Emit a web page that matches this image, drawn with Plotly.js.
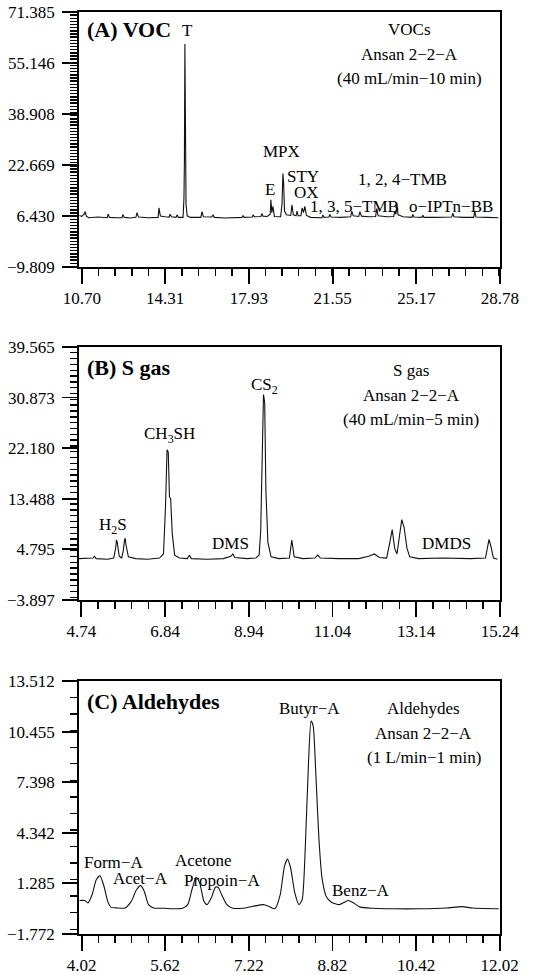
<!DOCTYPE html>
<html>
<head>
<meta charset="utf-8">
<script src="https://cdn.plot.ly/plotly-3.0.1.min.js"></script>
<style>html,body{margin:0;padding:0;background:#fff;}#chart{width:546px;height:975px;}</style>
</head>
<body>
<div id="chart"></div>
<script>
// ---------- Panel A : VOC chromatogram ----------
const vocTime = [10.60,10.70,10.80,10.84,10.90,11.00,11.40,11.80,11.84,11.90,12.20,12.44,12.48,12.54,12.80,13.04,13.09,13.15,13.60,14.00,14.04,14.10,14.30,14.48,14.52,14.58,14.78,14.82,14.88,15.08,15.12,15.14,15.16,15.18,15.21,15.26,15.40,15.85,15.90,15.96,16.20,16.33,16.37,16.44,16.90,17.30,17.63,17.67,17.72,18.07,18.11,18.16,18.45,18.49,18.54,18.72,18.85,18.88,18.92,18.97,19.03,19.30,19.36,19.40,19.43,19.47,19.55,19.74,19.79,19.85,19.97,20.01,20.06,20.18,20.23,20.29,20.35,20.42,20.60,21.09,21.13,21.18,21.39,21.43,21.48,21.90,22.33,22.38,22.44,22.68,22.73,22.80,23.10,23.41,23.46,23.52,23.90,24.19,24.24,24.29,24.33,24.38,24.60,24.98,25.02,25.07,25.41,25.45,25.50,26.00,26.50,26.70,26.75,26.80,27.20,27.65,27.70,27.75,28.20,28.72];
const vocSignal = [6.6,6.3,7.0,7.8,6.4,5.9,6.1,5.9,7.0,6.0,5.9,5.9,6.9,6.0,5.8,6.0,7.5,6.1,5.9,6.0,9.0,6.4,6.2,6.1,7.0,6.2,6.0,6.8,6.0,6.0,12.0,24.0,61.2,24.0,10.0,6.5,6.0,6.0,7.8,6.2,6.0,6.1,6.8,6.0,5.8,6.0,6.0,6.6,6.0,6.1,6.8,6.2,6.3,7.2,6.4,6.3,7.0,11.6,7.5,9.5,6.3,6.2,10.0,20.0,17.0,8.0,6.8,6.6,10.0,6.8,6.5,8.0,6.5,6.5,9.0,7.5,9.5,6.6,6.0,5.9,6.8,6.0,6.1,6.9,6.1,6.0,6.2,8.0,6.5,6.3,7.8,6.4,6.2,6.3,8.8,6.5,6.2,6.3,8.0,7.0,10.5,6.8,6.2,6.0,6.9,6.1,6.0,6.7,6.0,6.0,5.9,6.1,7.3,6.2,6.0,6.0,8.0,6.1,6.0,5.9];
const vocXTicks = [10.70,14.31,17.93,21.55,25.17,28.78];
const vocYTicks = [71.385,55.146,38.908,22.669,6.430,-9.809];

// ---------- Panel B : S gas chromatogram ----------
const sTime = [4.68,4.90,5.03,5.07,5.11,5.40,5.55,5.60,5.62,5.64,5.69,5.75,5.79,5.82,5.84,5.86,5.92,6.10,6.40,6.70,6.80,6.85,6.89,6.92,6.95,6.98,7.02,7.08,7.20,7.40,7.45,7.50,7.90,8.30,8.49,8.54,8.59,8.90,9.12,9.16,9.20,9.24,9.28,9.31,9.34,9.37,9.42,9.50,9.70,9.96,10.02,10.08,10.30,10.60,10.67,10.74,11.20,11.70,11.95,12.09,12.22,12.40,12.48,12.54,12.60,12.66,12.72,12.78,12.84,12.91,12.98,13.20,13.80,14.50,14.88,14.93,14.97,15.02,15.08,15.18];
const sSignal = [3.2,3.2,3.3,3.6,3.2,3.1,3.3,5.0,6.4,6.0,3.6,3.3,4.5,6.3,6.7,5.5,3.5,3.2,3.1,3.3,4.0,12.0,21.9,21.5,13.8,13.5,7.5,3.8,3.3,3.2,3.8,3.2,3.1,3.2,3.6,4.0,3.4,3.2,3.3,3.6,3.8,8.0,20.0,31.4,30.0,15.0,6.0,3.5,3.2,3.3,6.4,3.5,3.2,3.3,3.8,3.3,3.2,3.2,3.6,4.0,3.4,3.3,6.0,8.2,5.0,4.0,7.0,9.9,8.5,5.0,3.5,3.2,3.3,3.2,3.3,5.0,6.5,5.2,3.3,3.1];
const sXTicks = [4.74,6.84,8.94,11.04,13.14,15.24];
const sYTicks = [39.565,30.873,22.180,13.488,4.795,-3.897];

// ---------- Panel C : Aldehydes chromatogram ----------
const aldTime = [3.98,4.08,4.14,4.22,4.30,4.37,4.44,4.52,4.58,4.70,4.85,4.97,5.07,5.15,5.22,5.30,5.40,5.60,5.80,5.95,6.05,6.13,6.21,6.28,6.36,6.42,6.50,6.58,6.63,6.70,6.80,6.90,7.10,7.30,7.50,7.60,7.72,7.82,7.90,7.96,8.02,8.10,8.18,8.24,8.30,8.36,8.41,8.45,8.50,8.56,8.62,8.70,8.80,8.95,9.05,9.12,9.20,9.35,9.60,10.00,10.50,11.00,11.30,11.50,12.00];
const aldSignal = [0.25,0.25,0.10,0.6,1.5,1.75,1.2,0.2,-0.15,-0.2,-0.2,0.2,0.9,1.15,0.8,0.0,-0.2,-0.22,-0.25,-0.22,0.0,0.9,1.65,1.3,0.2,0.0,0.4,1.05,1.05,0.6,0.0,-0.2,-0.22,-0.1,0.0,-0.1,-0.25,0.6,2.3,2.75,2.2,0.7,0.0,0.3,3.5,8.5,11.1,10.8,8.0,4.0,1.6,0.5,0.15,0.0,0.15,0.25,0.15,-0.15,-0.22,-0.25,-0.25,-0.2,-0.12,-0.2,-0.25];
const aldXTicks = [4.02,5.62,7.22,8.82,10.42,12.02];
const aldYTicks = [13.512,10.455,7.398,4.342,1.285,-1.772];

// ---------- Text labels ----------
const vocLabels = ['T','B','E','MPX','STY','OX','1, 3, 5−TMB','1, 2, 4−TMB','o−IPTn−BB'];
const vocLabelX = [15.26,10.50,18.85,19.36,20.27,20.44,22.51,24.58,26.66];
const vocLabelY = [65.6,9.56,15.0,26.95,18.9,14.07,9.56,17.93,9.56];
const sLabels = ['CS<sub>2</sub>','CH<sub>3</sub>SH','H<sub>2</sub>S','DMS','DMDS'];
const sLabelX = [9.33,6.95,5.53,8.47,13.89];
const sLabelY = [32.79,24.45,8.81,5.76,5.76];
const aldLabels = ['Butyr−A','Form−A','Acet−A','Acetone','Propoin−A','Benz−A'];
const aldLabelX = [8.38,4.63,5.15,6.36,6.70,9.37];
const aldLabelY = [11.85,2.54,1.58,2.64,1.43,0.83];
const panelTitles = ['(A) VOC','(B) S gas','(C) Aldehydes'];
const infoA = ['VOCs','Ansan 2−2−A','(40 mL/min−10 min)'];
const infoB = ['S gas','Ansan 2−2−A','(40 mL/min−5 min)'];
const infoC = ['Aldehydes','Ansan 2−2−A','(1 L/min−1 min)'];

const FONT = 'Liberation Serif, Times New Roman, serif';
const fmt = v => (v < 0 ? '−' : '') + Math.abs(v).toFixed(3);
const fmtX = v => v.toFixed(2);

function axisStyle(ticks, labels, range, minorStep, extra) {
  return Object.assign({
    range: range, tickmode: 'array', tickvals: ticks, ticktext: labels,
    showline: true, mirror: true, linecolor: '#000', linewidth: 1.8,
    ticks: 'outside', ticklen: 15, tickwidth: 1.8, tickcolor: '#000',
    showgrid: false, zeroline: false, fixedrange: true,
    tickfont: {family: FONT, size: 17, color: '#000'},
    minor: {tickmode: 'linear', tick0: ticks[0], dtick: minorStep, ticks: 'outside',
            ticklen: 7, tickwidth: 1.4, tickcolor: '#000', showgrid: false}
  }, extra || {});
}

const line = {color: '#111', width: 1.1};
const traces = [
  {x: vocTime, y: vocSignal, xaxis: 'x', yaxis: 'y', mode: 'lines', line: line, hoverinfo: 'skip'},
  {x: sTime, y: sSignal, xaxis: 'x2', yaxis: 'y2', mode: 'lines', line: line, hoverinfo: 'skip'},
  {x: aldTime, y: aldSignal, xaxis: 'x3', yaxis: 'y3', mode: 'lines', line: Object.assign({shape: 'spline', smoothing: 0.6}, line), hoverinfo: 'skip'}
];

const ann = [];
function addText(xr, yr, x, y, text, opts) {
  ann.push(Object.assign({xref: xr, yref: yr, x: x, y: y, text: text, showarrow: false,
    xanchor: 'center', yanchor: 'middle', font: {family: FONT, size: 17, color: '#000'}}, opts || {}));
}
// panel titles
addText('x', 'y', 10.84, 65.9, '<b>' + panelTitles[0] + '</b>', {xanchor: 'left', font: {family: FONT, size: 22, color: '#000'}});
addText('x2', 'y2', 4.82, 36.06, '<b>' + panelTitles[1] + '</b>', {xanchor: 'left', font: {family: FONT, size: 22, color: '#000'}});
addText('x3', 'y3', 4.08, 12.26, '<b>' + panelTitles[2] + '</b>', {xanchor: 'left', font: {family: FONT, size: 22, color: '#000'}});
// info blocks
const infoAY = [65.9, 57.86, 50.1];
infoA.forEach((t, i) => addText('x', 'y', 24.89, infoAY[i], t));
const infoBY = [35.55, 31.24, 27.1];
infoB.forEach((t, i) => addText('x2', 'y2', 13.02, infoBY[i], t));
const infoCY = [11.85, 10.33, 8.88];
infoC.forEach((t, i) => addText('x3', 'y3', 10.57, infoCY[i], t));
// peak labels
vocLabels.forEach((t, i) => addText('x', 'y', vocLabelX[i], vocLabelY[i], t));
sLabels.forEach((t, i) => addText('x2', 'y2', sLabelX[i], sLabelY[i], t));
aldLabels.forEach((t, i) => addText('x3', 'y3', aldLabelX[i], aldLabelY[i], t));

const yExtra = {ticklabelstandoff: 4};
const layout = {
  width: 546, height: 975,
  margin: {l: 79, r: 46, t: 12, b: 41},
  paper_bgcolor: '#fff', plot_bgcolor: '#fff', showlegend: false,
  font: {family: FONT, size: 17, color: '#000'},
  xaxis: axisStyle(vocXTicks, vocXTicks.map(fmtX), [10.58, 28.79], (vocXTicks[1] - vocXTicks[0]) / 5, {anchor: 'y', domain: [0, 1]}),
  yaxis: axisStyle(vocYTicks, vocYTicks.map(fmt), [-9.81, 71.39], (vocYTicks[1] - vocYTicks[0]) / 6, Object.assign({anchor: 'x', domain: [0.7234, 1]}, yExtra)),
  xaxis2: axisStyle(sXTicks, sXTicks.map(fmtX), [4.68, 15.245], (sXTicks[1] - sXTicks[0]) / 5, {anchor: 'y2', domain: [0, 1]}),
  yaxis2: axisStyle(sYTicks, sYTicks.map(fmt), [-3.898, 39.566], (sYTicks[1] - sYTicks[0]) / 6, Object.assign({anchor: 'x2', domain: [0.3623, 0.6367]}, yExtra)),
  xaxis3: axisStyle(aldXTicks, aldXTicks.map(fmtX), [3.97, 12.025], (aldXTicks[1] - aldXTicks[0]) / 5, {anchor: 'y3', domain: [0, 1]}),
  yaxis3: axisStyle(aldYTicks, aldYTicks.map(fmt), [-1.773, 13.513], (aldYTicks[1] - aldYTicks[0]) / 6, Object.assign({anchor: 'x3', domain: [0, 0.2744]}, yExtra)),
  annotations: ann
};

Plotly.newPlot('chart', traces, layout, {staticPlot: true, displayModeBar: false});
</script>
</body>
</html>
